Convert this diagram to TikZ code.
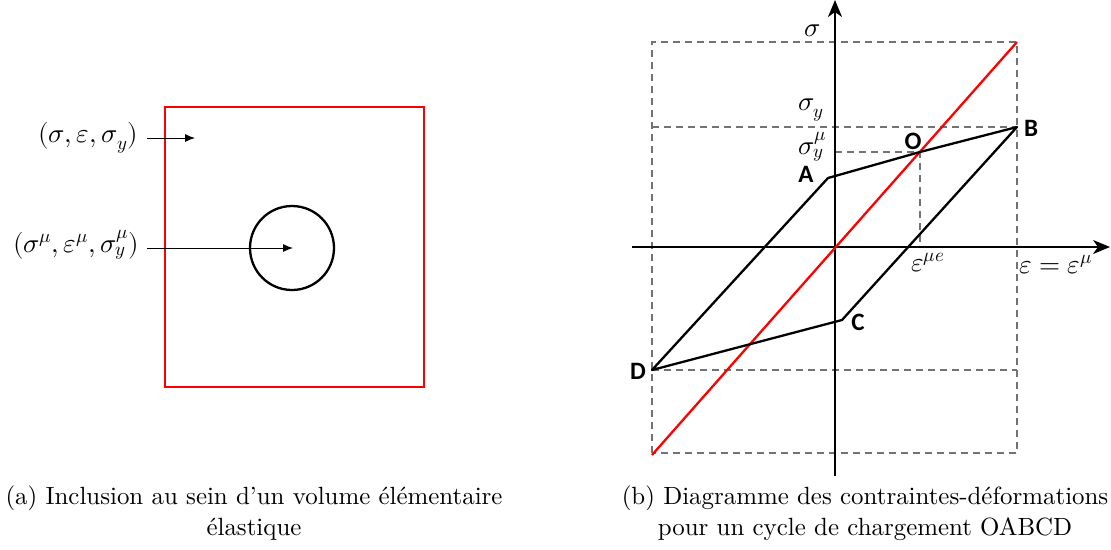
\documentclass[tikz,border=0pt]{standalone}
\usepackage{fontspec}
\usepackage{unicode-math}
\setmainfont{lmroman10-regular.otf}[BoldFont=lmroman10-bold.otf,ItalicFont=lmroman10-italic.otf]
\setmathfont{Latin Modern Math}
\newfontfamily\lblfont{Carlito}
\usetikzlibrary{arrows.meta}
\begin{document}
\begin{tikzpicture}[x=1pt,y=-1pt,
  redbox/.style={draw=red,line width=2.8pt},
  incl/.style={draw=black,line width=2.3pt},
  thinarrow/.style={draw=black,line width=0.9pt,-{Latex[length=10pt,width=8pt]}},
  axisline/.style={draw=black,line width=1.5pt,-{Stealth[length=17pt,width=14pt,inset=5pt]}},
  guide/.style={draw=black!55,line width=1.4pt,dash pattern=on 7pt off 5pt},
  elastic/.style={draw=red,line width=2.3pt},
  cycle/.style={draw=black,line width=2.3pt,line join=round},
  mathlbl/.style={font=\fontsize{27}{30}\selectfont,inner sep=0pt},
  ptlbl/.style={font=\fontsize{25}{28}\selectfont\lblfont\bfseries,inner sep=0pt},
  caption/.style={font=\fontsize{24.9}{31}\selectfont,align=center,inner sep=0pt}
]
\useasboundingbox (0,0) rectangle (1111,549);
% ---------- left panel ----------
\draw[redbox] (165,107) rectangle (424,387);
\node[incl,circle,minimum size=84pt,inner sep=0pt] (inc) at (292,248) {};
\coordinate (macroEnd) at (195,138);
\coordinate (microEnd) at (293,248);
\node[mathlbl,anchor=east] (macro) at (138,138) {$(\sigma,\varepsilon,\sigma_y)$};
\node[mathlbl,anchor=east] (micro) at (139,245) {$(\sigma^{\mu},\varepsilon^{\mu},\sigma_y^{\mu})$};
\draw[thinarrow] (147,138) -- (macroEnd);
\draw[thinarrow] (147,248) -- (microEnd);
% ---------- right panel ----------
\coordinate (orig) at (835,247);
\coordinate (xstart) at (632,247);
\coordinate (xend) at (1110,247);
\coordinate (ystart) at (835,476);
\coordinate (yend) at (835,0);
\coordinate (A) at (828,178);
\coordinate (O) at (920,152);
\coordinate (B) at (1017,127);
\coordinate (C) at (842,320);
\coordinate (D) at (652,370);
\coordinate (R1) at (652,455);
\coordinate (R2) at (1017,42);
% dashed guides
\draw[guide] (652,453) rectangle (1017,42);
\draw[guide] (652,127) -- (B);
\draw[guide] (D) -- (1017,370);
\draw[guide] (835,152) -- (O) -- (920,247);
% axes
\draw[axisline] (xstart) -- (xend);
\draw[axisline] (ystart) -- (yend);
% elastic line
\draw[elastic] (R1) -- (R2);
% cycle
\draw[cycle] (O) -- (B) -- (C) -- (D) -- (A) -- cycle;
% labels
\node[mathlbl] (lsig) at (813,31) {$\sigma$};
\node[mathlbl] (lsy) at (811,110) {$\sigma_y$};
\node[mathlbl] (lsym) at (812,147) {$\sigma_y^{\mu}$};
\node[mathlbl,anchor=west] (lemue) at (911,263) {$\varepsilon^{\mu e}$};
\node[mathlbl,anchor=west] (leps) at (1019,265) {$\varepsilon=\varepsilon^{\mu}$};
\node[ptlbl] (lA) at (806,174) {A};
\node[ptlbl] (lO) at (913,141) {O};
\node[ptlbl] (lB) at (1031,128) {B};
\node[ptlbl] (lC) at (858,322) {C};
\node[ptlbl] (lD) at (638,371) {D};
% captions
\node[caption] (capa) at (254,513) {(a) Inclusion au sein d'un volume élémentaire\\élastique};
\node[caption] (capb) at (865,513) {(b) Diagramme des contraintes-déformations\\pour un cycle de chargement OABCD};
\end{tikzpicture}
\end{document}
